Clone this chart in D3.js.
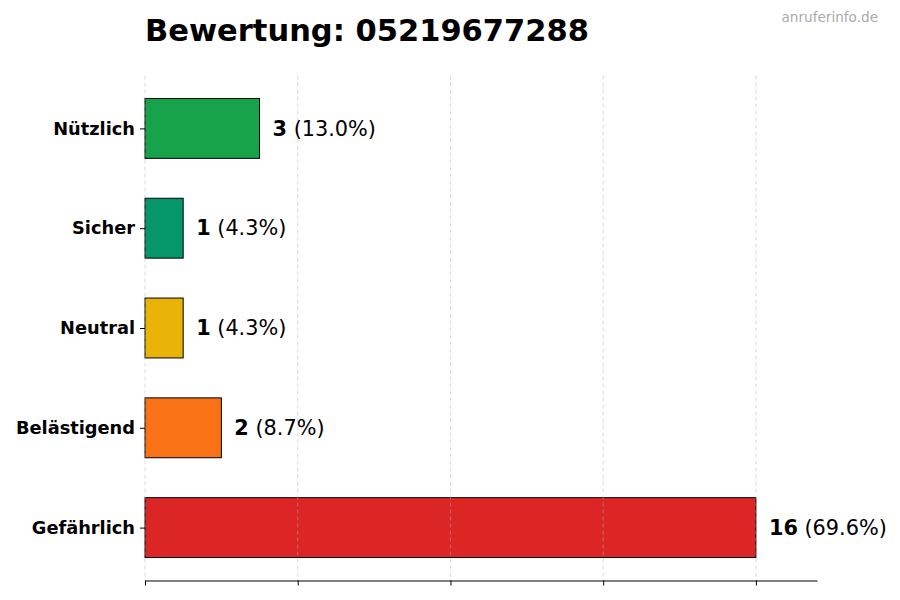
<!DOCTYPE html>
<html><head><meta charset="utf-8">
<script src="https://cdn.jsdelivr.net/npm/d3@7"></script>
<style>body{margin:0;background:#fff;}svg{display:block;font-family:"DejaVu Sans",sans-serif;}</style>
</head><body><svg id="c" width="900" height="600"></svg>
<script>
const categories = ["Gefährlich","Belästigend","Neutral","Sicher","Nützlich"];
const values = [16, 2, 1, 1, 3];
const percents = ["69.6%","8.7%","4.3%","4.3%","13.0%"];
const colors = ["#dc2626","#f97316","#eab308","#059669","#16a34a"];
const xTicks = [0, 4, 8, 12, 16];
const title = "Bewertung: 05219677288";
const watermark = "anruferinfo.de";

(function(){
const svg = d3.select("#c");
const pLeft = 145, pRight = 817, pTop = 75.5, pBottom = 580.5;
const xMax = d3.max(values) * 1.1;
const x = d3.scaleLinear().domain([0, xMax]).range([pLeft, pRight]);
const y = d3.scaleLinear().domain([-0.53, categories.length - 1 + 0.53]).range([pBottom, pTop]);
const barH = y(0) - y(0.6);

svg.append("g").selectAll("rect").data(values).join("rect")
  .attr("x", x(0))
  .attr("y", (d,i) => y(i + 0.3))
  .attr("width", d => x(d) - x(0))
  .attr("height", barH)
  .attr("fill", (d,i) => colors[i])
  .attr("stroke", "#000").attr("stroke-width", 1);

svg.append("g").selectAll("line").data(xTicks).join("line")
  .attr("x1", d => x(d)).attr("x2", d => x(d))
  .attr("y1", pTop).attr("y2", pBottom)
  .attr("stroke", "#b0b0b0").attr("stroke-opacity", 0.6)
  .attr("stroke-dasharray", "4,3").attr("stroke-width", 0.8);

const xa = svg.append("g").attr("transform", `translate(0,${pBottom})`)
  .call(d3.axisBottom(x).tickValues(xTicks).tickFormat("").tickSize(5).tickSizeOuter(0));
xa.select(".domain").attr("stroke", "#000").attr("stroke-width", 1);
xa.selectAll(".tick line").attr("stroke", "#000");

const ya = svg.append("g").attr("transform", `translate(${pLeft},0)`)
  .call(d3.axisLeft(y).tickValues(d3.range(categories.length)).tickFormat(i => categories[i]).tickSize(5).tickPadding(5));
ya.select(".domain").remove();
ya.selectAll(".tick line").attr("stroke", "#000");
ya.selectAll(".tick text").attr("font-size", 17.8).attr("font-weight", "bold")
  .attr("fill", "#000").attr("font-family", "DejaVu Sans");

const lbl = svg.append("g").selectAll("text").data(values).join("text")
  .attr("x", d => x(d) + 13)
  .attr("y", (d,i) => y(i))
  .attr("dy", "0.35em")
  .attr("font-size", 20.8).attr("fill", "#000");
lbl.append("tspan").attr("font-weight", "bold").text(d => d);
lbl.append("tspan").text((d,i) => " (" + percents[i] + ")");

svg.append("text").attr("x", pLeft).attr("y", 41)
  .attr("font-size", 30.5).attr("font-weight", "bold").attr("fill", "#000").text(title);
svg.append("text").attr("x", 878).attr("y", 22).attr("text-anchor", "end")
  .attr("font-size", 13.6).attr("fill", "#aaaaaa").text(watermark);
})();
</script></body></html>
